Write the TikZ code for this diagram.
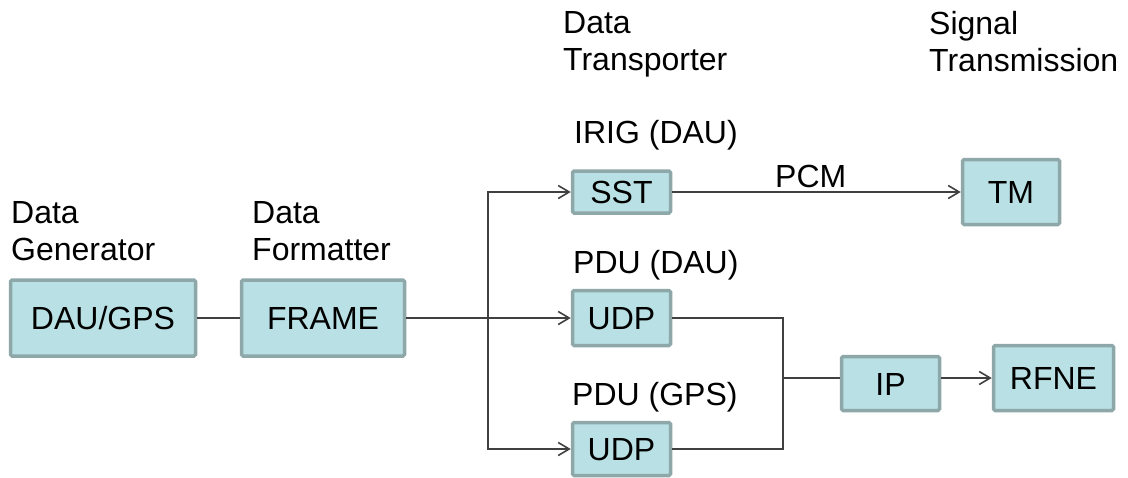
\documentclass[tikz,border=0pt]{standalone}
\usepackage{fontspec}
\setmainfont{Liberation Sans}
\usetikzlibrary{arrows.meta}

\definecolor{boxfill}{HTML}{B9E0E4}
\definecolor{boxedge}{HTML}{8EA8AA}
\definecolor{wire}{HTML}{404040}

\tikzset{
  stage/.style={draw=boxedge, line width=3.5pt, fill=boxfill, rounded corners=1.5pt,
    inner sep=0pt, text height=23pt, text depth=0pt, font=\fontsize{32}{37}\selectfont},
  caption/.style={inner sep=0pt, align=left, anchor=north west, font=\fontsize{32}{37.5}\selectfont},
  tag/.style={inner sep=0pt, anchor=base west, font=\fontsize{32}{37}\selectfont},
  wireline/.style={draw=wire, line width=1.6pt},
  flow/.style={wireline, -{Straight Barb[length=11pt,width=13pt]}}
}

\begin{document}
\begin{tikzpicture}[x=1pt, y=-1pt]
  \useasboundingbox (0,0) rectangle (1128,477);

  % processing stages
  \node[stage, minimum width=185pt, minimum height=76pt] (gen)  at (103,318)     {DAU/GPS};
  \node[stage, minimum width=163pt, minimum height=76pt] (fmt)  at (323,318)     {FRAME};
  \node[stage, minimum width=98pt,  minimum height=42pt] (sst)  at (621.5,192)   {SST};
  \node[stage, minimum width=97pt,  minimum height=65pt] (tm)   at (1011,192)    {TM};
  \node[stage, minimum width=98pt,  minimum height=55pt] (udpa) at (621.5,318)   {UDP};
  \node[stage, minimum width=98pt,  minimum height=53pt] (udpb) at (621.5,449)   {UDP};
  \node[stage, minimum width=98pt,  minimum height=54pt] (ip)   at (890.5,383.5) {IP};
  \node[stage, minimum width=120pt, minimum height=65pt] (rfne) at (1053.5,378)  {RFNE};

  % column headings
  \node[caption] (hgen) at (11,201)  {Data\\Generator};
  \node[caption] (hfmt) at (252,201) {Data\\Formatter};
  \node[caption] (htr)  at (563,11)  {Data\\Transporter};
  \node[caption] (hsig) at (929,11)  {Signal\\Transmission};

  % stage labels
  \node[tag] (lirig) at (574,143) {IRIG (DAU)};
  \node[tag] (lpdua) at (573,273) {PDU (DAU)};
  \node[tag] (lpdub) at (572,405) {PDU (GPS)};

  % branch and merge points
  \coordinate (split) at (488,318);
  \coordinate (merge) at (783,378);

  % connectors
  \draw[wireline] (gen.east) -- (fmt.west);
  \draw[flow] (fmt.east) -- (udpa.west);
  \draw[flow] (split) |- (sst.west);
  \draw[flow] (split) |- (udpb.west);
  \draw[flow] (sst.east) -- node[inner sep=0pt, anchor=base, pos=0.48, yshift=5pt,
    font=\fontsize{32}{37}\selectfont] (lpcm) {PCM} (tm.west);
  \draw[wireline] (udpa.east) -| (merge) |- (udpb.east);
  \draw[wireline] (merge) -- (merge -| ip.west);
  \draw[flow] (merge -| ip.east) -- (rfne.west);
\end{tikzpicture}
\end{document}
